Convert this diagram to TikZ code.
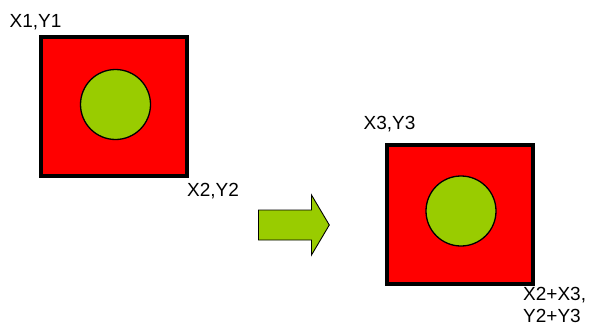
\documentclass[tikz,border=0pt]{standalone}
\usepackage{fontspec}
\setmainfont{Liberation Sans}
\definecolor{boxred}{HTML}{FF0000}
\definecolor{ballgreen}{HTML}{99CC00}
\begin{document}
\begin{tikzpicture}[x=1pt,y=-1pt,
  sq/.style={draw=black,fill=boxred,line width=4pt,rectangle,inner sep=0pt,minimum width=146pt,minimum height=139pt},
  ball/.style={draw=black,fill=ballgreen,line width=1.3pt,circle,inner sep=0pt,minimum size=70pt},
  lbl/.style={font=\fontsize{19}{22}\selectfont,inner sep=0pt,anchor=base west},
  arr/.style={draw=black,fill=ballgreen,line width=0.9pt,line join=miter}]
\useasboundingbox (0,0) rectangle (593,329);
\node[sq] (sq1) at (114,106.5) {};
\node[ball] (c1) at (115.5,104.5) {};
\node[sq] (sq2) at (460,214) {};
\node[ball] (c2) at (461,211) {};
\draw[arr] (258.5,210) -- (311.5,210) -- (311.5,195) -- (329.3,225) -- (311.5,255) -- (311.5,240) -- (258.5,240) -- cycle;
\node[lbl] (l1) at (9.5,28) {X1,Y1};
\node[lbl] (l2) at (187,196) {X2,Y2};
\node[lbl] (l3) at (363.5,129) {X3,Y3};
\node[lbl] (l4) at (523,300) {X2+X3,};
\node[lbl] (l5) at (523,322) {Y2+Y3};
\end{tikzpicture}
\end{document}
